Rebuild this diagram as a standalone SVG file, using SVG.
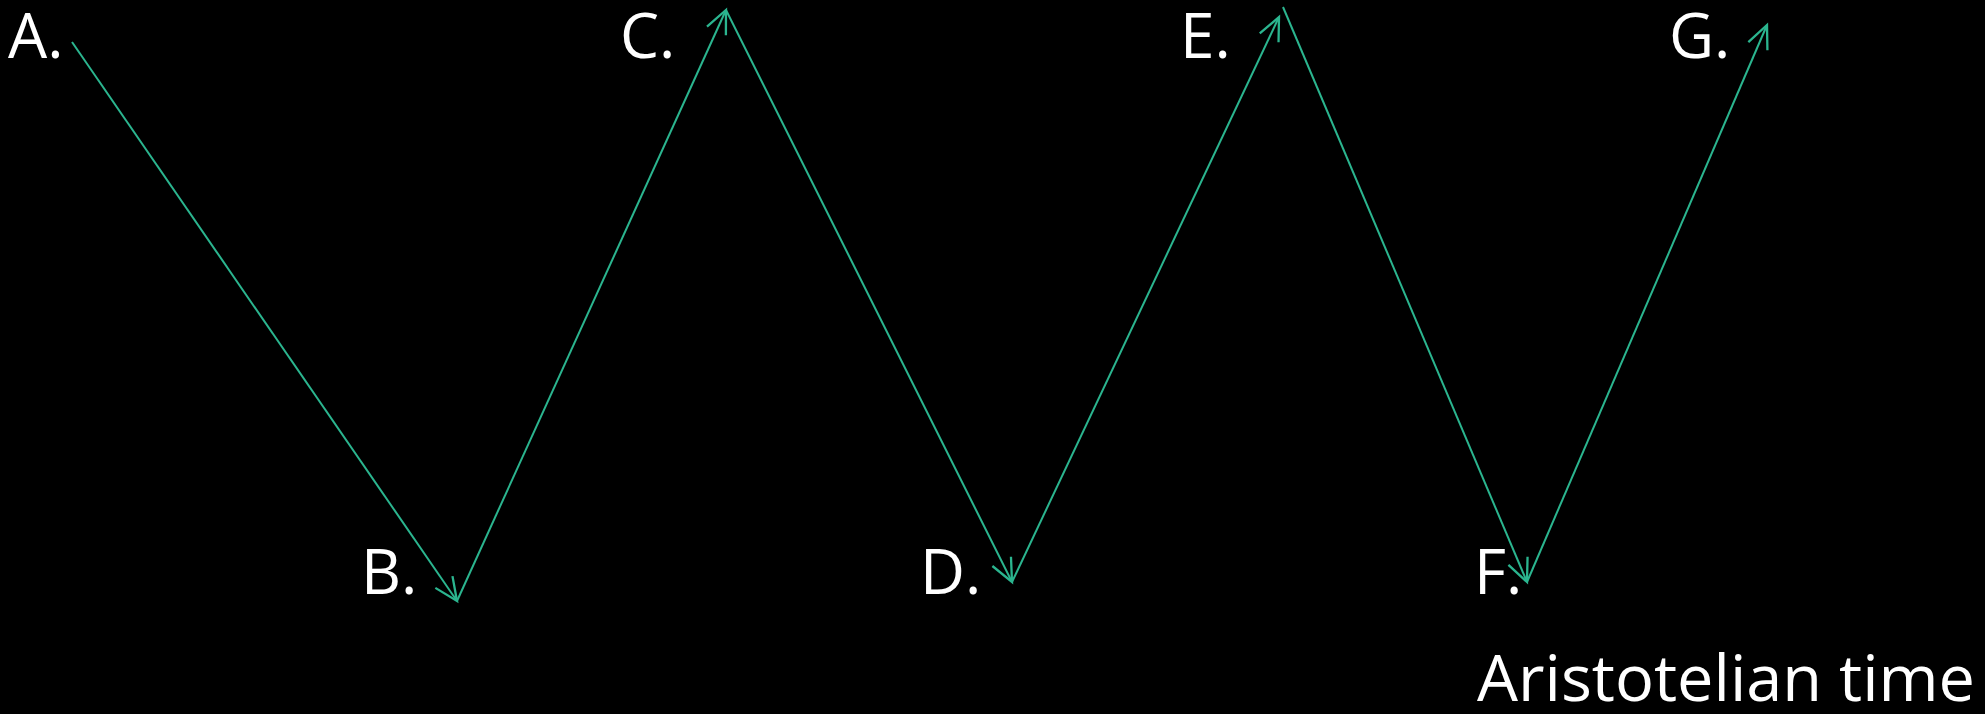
<svg xmlns="http://www.w3.org/2000/svg" width="1985" height="714" viewBox="0 0 1985 714">
<style>
.lbl{font-family:"Open Sans","Noto Sans","Liberation Sans",sans-serif;font-size:62px;fill:#ffffff}
.title{font-family:"Open Sans","Noto Sans","Liberation Sans",sans-serif;font-size:64px;fill:#ffffff}
.conn{stroke:#2bb58f;stroke-width:2;fill:none;marker-end:url(#arr)}
</style>
<defs>
<marker id="arr" markerUnits="userSpaceOnUse" markerWidth="30" markerHeight="30" viewBox="-22 -12 26 24" refX="0" refY="0" orient="auto">
<path d="M-20,-9 L0,0 L-20,9" fill="none" stroke="#2bb58f" stroke-width="2"/>
</marker>
</defs>
<rect width="1985" height="714" fill="#000000"/>
<g id="connectors">
<line class="conn" x1="72" y1="42" x2="457" y2="601"/>
<line class="conn" x1="457" y1="601" x2="726" y2="10"/>
<line class="conn" x1="726" y1="10" x2="1012" y2="582"/>
<line class="conn" x1="1012" y1="582" x2="1279" y2="17"/>
<line class="conn" x1="1283" y1="7" x2="1527" y2="582"/>
<line class="conn" x1="1527" y1="582" x2="1767" y2="25"/>
</g>
<g id="nodeA"><text class="lbl" x="8" y="58">A.</text></g>
<g id="nodeB"><text class="lbl" x="361" y="594">B.</text></g>
<g id="nodeC"><text class="lbl" x="620" y="58">C.</text></g>
<g id="nodeD"><text class="lbl" x="920" y="594">D.</text></g>
<g id="nodeE"><text class="lbl" x="1180" y="58">E.</text></g>
<g id="nodeF"><text class="lbl" x="1474" y="594">F.</text></g>
<g id="nodeG"><text class="lbl" x="1669" y="58">G.</text></g>
<g id="title"><text class="title" x="1477" y="701" textLength="498" lengthAdjust="spacingAndGlyphs">Aristotelian time</text></g>
</svg>
